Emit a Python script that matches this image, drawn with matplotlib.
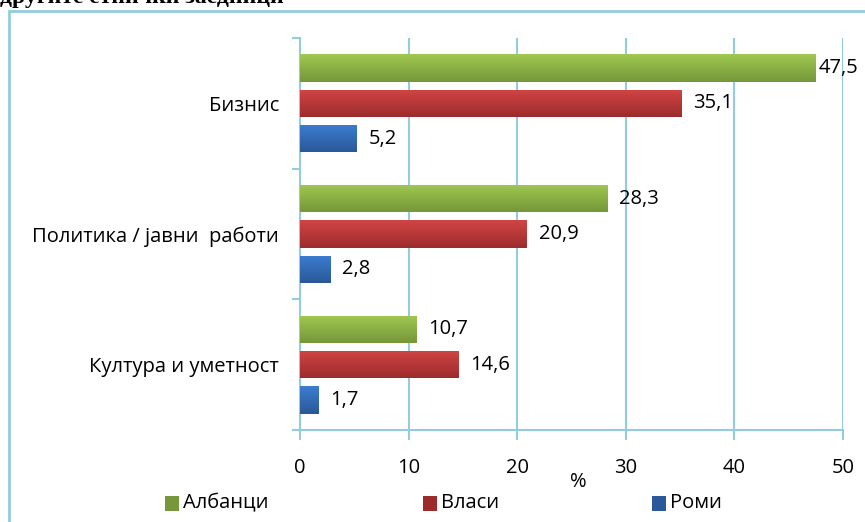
import numpy as np
import matplotlib.pyplot as plt
from matplotlib.patches import Rectangle
from matplotlib.colors import LinearSegmentedColormap

plt.rcParams['font.family'] = ['Open Sans', 'DejaVu Sans']

categories = ['Бизнис', 'Политика / јавни  работи', 'Култура и уметност']
series_names = ['Албанци', 'Власи', 'Роми']
albanci = [47.5, 28.3, 10.7]
vlasi = [35.1, 20.9, 14.6]
romi = [5.2, 2.8, 1.7]
x_ticks = [0, 10, 20, 30, 40, 50]

# gradient top -> bottom for each series
grads = [('#a0c850', '#76973a'), ('#d24444', '#9c2c2c'), ('#3c7dd0', '#2a5898')]
grid_c = '#93cddd'
W, H = 865, 522
FS = 14.5

fig = plt.figure(figsize=(W / 100, H / 100), dpi=100)
ax = fig.add_axes([300 / W, 1 - 430 / H, 543 / W, 392 / H])

# outer frame (chart area border)
fig.patches.append(Rectangle((9 / W, -0.1), 1.0, 1.1 - 11 / H, transform=fig.transFigure,
                             fill=False, edgecolor=grid_c, linewidth=2, clip_on=False))
fig.text(0.0, 1.0 + 2 / H, 'другите етнички заедници', family='Liberation Serif',
         fontsize=17, fontweight='bold', ha='left', va='center')

ypos = np.arange(len(categories))  # 0 top
offsets = [-0.27, 0.0, 0.27]
bar_h = 0.21
for vals, off, (c1, c2), name in zip([albanci, vlasi, romi], offsets, grads, series_names):
    bars = ax.barh(ypos + off, vals, height=bar_h, color=c2, label=name, zorder=3)
    cmap = LinearSegmentedColormap.from_list('g', [c1, c2])
    for b, v in zip(bars, vals):
        x0, y0 = b.get_x(), b.get_y()
        w, h = b.get_width(), b.get_height()
        im = ax.imshow(np.linspace(0, 1, 50).reshape(-1, 1), cmap=cmap, aspect='auto',
                       extent=[x0, x0 + w, y0 + h, y0], zorder=3.5,
                       interpolation='bicubic')
        im.set_clip_path(b)
        gap = 0.3 if v > 45 else 1.1
        ax.text(v + gap, y0 + h / 2, f'{v:.1f}'.replace('.', ','), va='center',
                ha='left', fontsize=FS, zorder=5)

ax.set_xlim(0, 50)
ax.set_ylim(2.5, -0.5)
ax.set_xticks(x_ticks)
ax.set_xticklabels([str(t) for t in x_ticks], fontsize=FS)
ax.set_yticks(ypos)
ax.set_yticklabels(categories, fontsize=FS)
ax.set_yticks([-0.5, 0.5, 1.5, 2.5], minor=True)
ax.tick_params(axis='y', which='major', length=0, pad=15)
ax.tick_params(axis='y', which='minor', length=6, color=grid_c, width=1.5)
ax.tick_params(axis='x', length=7, color=grid_c, width=1.5, pad=13)
ax.grid(axis='x', color=grid_c, linewidth=1.5, zorder=0)
for s in ['top', 'right']:
    ax.spines[s].set_visible(False)
for s in ['left', 'bottom']:
    ax.spines[s].set_color(grid_c)
    ax.spines[s].set_linewidth(1.5)
ax.set_xlabel('%', fontsize=FS)
ax.xaxis.set_label_coords((578 - 300) / 543, -(472 - 430) / 392)

# legend: marker squares + labels
leg_x = [165, 423, 652]
leg_y = 503
for lx, (c1, c2), name in zip(leg_x, grads, series_names):
    fig.patches.append(Rectangle((lx / W, 1 - (leg_y + 7.5) / H), 14 / W, 15 / H,
                                 transform=fig.transFigure, facecolor=c2,
                                 edgecolor='none'))
    fig.text((lx + 18) / W, 1 - leg_y / H, name, fontsize=FS, ha='left', va='center')

fig.savefig('out.png', dpi=100)
